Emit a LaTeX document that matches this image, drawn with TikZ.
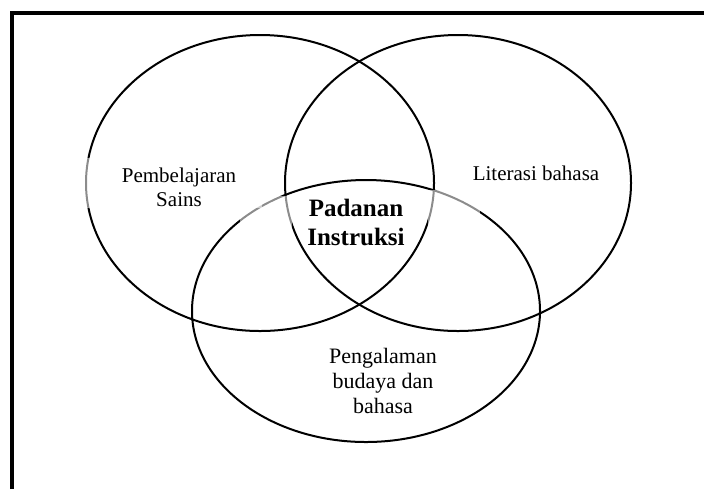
\documentclass[tikz,border=0pt]{standalone}
\usepackage{fontspec}
\setmainfont{Liberation Serif}

\begin{document}
\begin{tikzpicture}[x=0.5pt, y=-0.5pt,
  set/.style={line width=1pt},
  haze/.style={fill=white, fill opacity=0.55, draw=none},
  lbl/.style={font=\fontsize{10.5}{12}\selectfont, align=center, inner sep=0pt},
  core/.style={font=\fontsize{12.5}{14.5}\selectfont\bfseries, align=center, inner sep=0pt}]
\useasboundingbox (0,0) rectangle (704,489);
% open frame, left and top only
\draw[line width=2pt] (12,489) -- (12,12.5) -- (704,12.5);
% the three sets
\draw[set] (260,183) ellipse [x radius=87pt, y radius=74pt];
\draw[set] (458,183) ellipse [x radius=86.5pt, y radius=74pt];
\draw[set] (366,311) ellipse [x radius=87pt, y radius=65.5pt];
% faded patches behind the labels
\fill[haze] (80,158) rectangle (262,208);
\fill[haze] (240,196) rectangle (292,265);
\fill[haze] (428,190) rectangle (480,265);
% labels
\node[lbl] (sci) at (179,187) {Pembelajaran\\Sains};
\node[lbl] (lit) at (536,173) {Literasi bahasa};
\node[core] (pad) at (356,222) {Padanan\\Instruksi};
\node[lbl, font=\fontsize{11}{12.5}\selectfont] (cul) at (383,381) {Pengalaman\\budaya dan\\bahasa};
\end{tikzpicture}
\end{document}
